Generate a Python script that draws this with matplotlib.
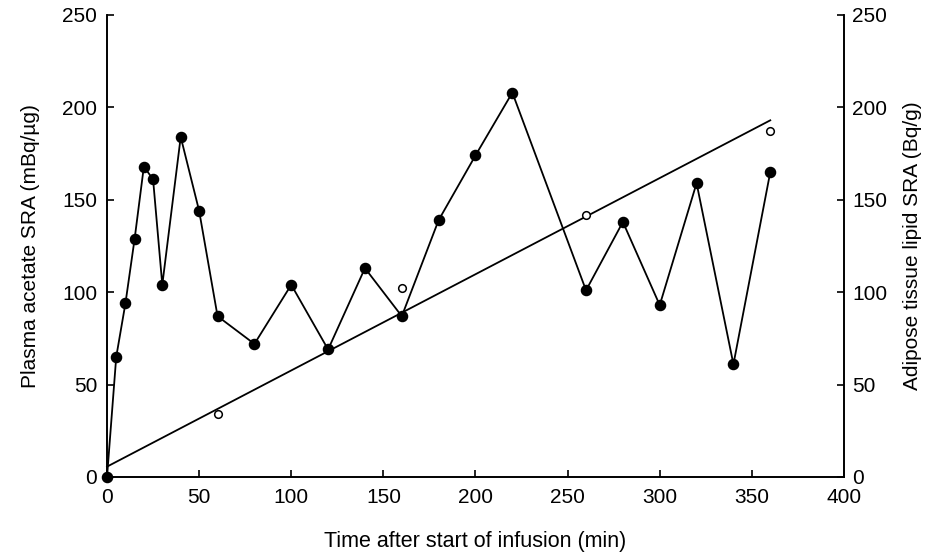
import matplotlib.pyplot as plt

plt.rcParams['font.family'] = ['Liberation Sans', 'DejaVu Sans']

# =========================
# Data
# =========================
# plasma acetate SRA (filled circles, left axis)
plasma_time = [0, 5, 10, 15, 20, 25, 30, 40, 50, 60, 80, 100, 120, 140, 160,
               180, 200, 220, 260, 280, 300, 320, 340, 360]
plasma_sra = [0, 65, 94, 129, 168, 161, 104, 184, 144, 87, 72, 104, 69, 113, 87,
              139, 174, 208, 101, 138, 93, 159, 61, 165]

# adipose tissue lipid SRA (open circles, right axis)
adipose_time = [60, 160, 260, 360]
adipose_sra = [34, 102, 142, 187]

# fitted line for the adipose data (end points)
fit_time = [0, 360]
fit_sra = [5.6, 193]

x_ticks = [0, 50, 100, 150, 200, 250, 300, 350, 400]
y_ticks = [0, 50, 100, 150, 200, 250]

# =========================
# Figure
# =========================
fig = plt.figure(figsize=(9.25, 5.59), dpi=100)
ax = fig.add_axes([0.1157, 0.1467, 0.7967, 0.8265])

ax.plot(plasma_time, plasma_sra, color="black", lw=1.3, marker="o",
        markersize=7.3, markerfacecolor="black", markeredgecolor="black",
        clip_on=False, zorder=3)

ax2 = ax.twinx()
ax2.plot(fit_time, fit_sra, color="black", lw=1.3, clip_on=False)
ax2.plot(adipose_time, adipose_sra, linestyle="none", marker="o",
         markersize=5.5, markerfacecolor="white", markeredgecolor="black",
         markeredgewidth=1.1, clip_on=False, zorder=3)

for a in (ax, ax2):
    a.set_xlim(0, 400)
    a.set_ylim(0, 250)
    a.spines["top"].set_visible(False)
    for s in ("left", "right", "bottom"):
        a.spines[s].set_linewidth(1.2)

ax.set_xticks(x_ticks)
ax.set_yticks(y_ticks)
ax2.set_yticks(y_ticks)

ax.tick_params(axis="x", direction="in", length=5, width=1.2,
               labelsize=15, pad=8)
ax.tick_params(axis="y", direction="in", length=5, width=1.2,
               labelsize=15, pad=7)
ax2.tick_params(axis="y", direction="in", length=5, width=1.2,
                labelsize=15, pad=6)

ax.set_xlabel("Time after start of infusion (min)", fontsize=15.5, labelpad=17)
ax.set_ylabel("Plasma acetate SRA (mBq/\u00b5g)", fontsize=15, labelpad=16)
ax2.set_ylabel("Adipose tissue lipid SRA (Bq/g)", fontsize=15, labelpad=11)

fig.savefig("out.png", dpi=100)
